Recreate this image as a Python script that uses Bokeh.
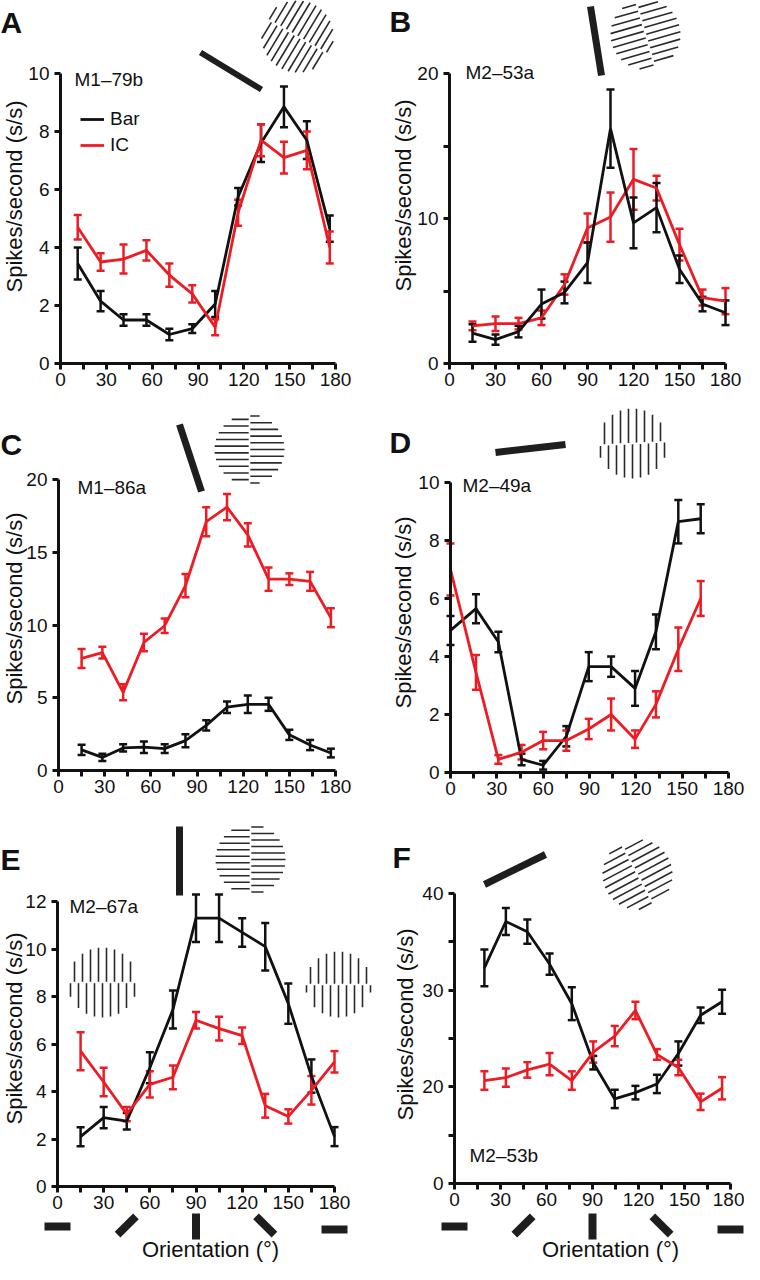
import math
from bokeh.plotting import figure
from bokeh.models import (Range1d, LinearAxis, FixedTicker, Whisker, TeeHead,
                          ColumnDataSource, Legend, LegendItem)
from bokeh.layouts import column, row
from bokeh.core.properties import value
from bokeh.embed import file_html
from bokeh.resources import INLINE

FONT = "Liberation Sans"
BLACK = "#111111"
RED = "#ec1c24"
ICON = "#1e1e1e"
GRAT = "#2a2a2a"

# ---------------- data ----------------
a_x = [11.25, 26.25, 41.25, 56.25, 71.25, 86.25, 101.25, 116.25, 131.25, 146.25, 161.25, 176.25]
a_bar = [3.45, 2.15, 1.5, 1.5, 1.0, 1.2, 2.05, 5.75, 7.6, 8.85, 7.7, 4.65]
a_bar_err = [0.55, 0.35, 0.2, 0.2, 0.2, 0.15, 0.45, 0.3, 0.65, 0.7, 0.65, 0.45]
a_ic = [4.7, 3.5, 3.6, 3.9, 3.05, 2.4, 1.25, 5.2, 7.7, 7.1, 7.35, 4.0]
a_ic_err = [0.42, 0.3, 0.5, 0.35, 0.4, 0.3, 0.28, 0.45, 0.55, 0.55, 0.65, 0.55]

b_x = [15, 30, 45, 60, 75, 90, 105, 120, 135, 150, 165, 180]
b_bar = [2.1, 1.65, 2.2, 4.1, 4.9, 6.95, 16.2, 9.7, 10.75, 6.5, 4.1, 3.5]
b_bar_err = [0.6, 0.35, 0.4, 1.0, 0.75, 1.4, 2.7, 1.75, 1.7, 0.95, 0.5, 0.85]
b_ic = [2.6, 2.75, 2.75, 3.15, 5.45, 9.35, 10.1, 12.7, 12.1, 8.2, 4.55, 4.3]
b_ic_err = [0.3, 0.5, 0.4, 0.5, 0.7, 1.0, 1.7, 2.1, 0.85, 1.1, 0.55, 0.9]

c_x = [15, 28.5, 42, 55.5, 69, 82.5, 96, 109.5, 123, 136.5, 150, 163.5, 177]
c_bar = [1.42, 0.9, 1.55, 1.6, 1.5, 2.05, 3.1, 4.35, 4.55, 4.55, 2.45, 1.75, 1.2]
c_bar_err = [0.35, 0.25, 0.25, 0.4, 0.3, 0.45, 0.35, 0.4, 0.6, 0.45, 0.35, 0.35, 0.3]
c_ic = [7.7, 8.1, 5.37, 8.8, 9.95, 12.7, 17.1, 18.1, 16.2, 13.15, 13.15, 13.0, 10.5]
c_ic_err = [0.65, 0.4, 0.55, 0.6, 0.5, 0.8, 1.0, 0.9, 0.8, 0.8, 0.4, 0.65, 0.65]

d_x = [0, 16.5, 31, 46, 60, 75, 89.5, 104, 119.5, 133, 147.5, 162]
d_bar = [4.9, 5.65, 4.5, 0.45, 0.25, 1.25, 3.65, 3.65, 2.9, 4.85, 8.65, 8.75]
d_bar_err = [0.5, 0.5, 0.35, 0.2, 0.15, 0.35, 0.5, 0.35, 0.6, 0.6, 0.75, 0.5]
d_ic = [7.0, 3.45, 0.45, 0.7, 1.1, 1.1, 1.5, 2.0, 1.15, 2.35, 4.25, 6.0]
d_ic_err = [0.9, 0.6, 0.15, 0.25, 0.3, 0.35, 0.35, 0.55, 0.3, 0.45, 0.75, 0.6]

e_x = [15, 30, 45, 60, 75, 90, 105, 120, 135, 150, 165, 180]
e_bar = [2.1, 2.9, 2.75, 5.0, 7.45, 11.3, 11.3, 10.7, 10.1, 7.7, 4.65, 2.1]
e_bar_err = [0.4, 0.45, 0.35, 0.65, 0.8, 1.0, 1.0, 0.6, 1.0, 0.85, 0.7, 0.4]
e_ic = [5.7, 4.4, 3.05, 4.3, 4.6, 7.0, 6.65, 6.35, 3.4, 2.95, 4.05, 5.25]
e_ic_err = [0.8, 0.6, 0.3, 0.55, 0.5, 0.35, 0.5, 0.35, 0.5, 0.3, 0.6, 0.45]

f_x = [19.5, 33.5, 47.5, 62, 76.5, 90.5, 104.5, 118, 132, 146, 160.5, 174.5]
f_bar = [32.3, 37.1, 36.05, 32.7, 28.6, 22.5, 18.75, 19.4, 20.3, 23.45, 27.4, 28.8]
f_bar_err = [1.9, 1.4, 1.25, 1.1, 1.7, 0.7, 0.95, 0.7, 0.95, 1.25, 0.8, 1.25]
f_ic = [20.65, 20.95, 21.75, 22.35, 20.65, 23.6, 25.25, 27.9, 23.35, 22.0, 18.45, 19.85]
f_ic_err = [0.95, 0.95, 0.8, 1.15, 0.95, 1.1, 1.05, 0.9, 0.55, 0.8, 0.85, 1.15]

x_ticks = [0, 30, 60, 90, 120, 150, 180]
x_minor = [15, 45, 75, 105, 135, 165]
orientations = [0, 45, 90, 135, 180]
y_label = "Spikes/second (s/s)"
x_label = "Orientation (°)"


# ---------------- helpers ----------------
class Panel:
    def __init__(self, left, top, W, H, xpx, xval, ypx, yval):
        self.left, self.top, self.W, self.H = left, top, W, H
        self.sx = (xpx[1] - xpx[0]) / (xval[1] - xval[0])
        self.sy = (ypx[0] - ypx[1]) / (yval[1] - yval[0])
        self.xs = xval[0] - (xpx[0] - left) / self.sx
        self.ys = yval[0] - (top + H - ypx[0]) / self.sy
        p = figure(width=W, height=H,
                   x_range=Range1d(self.xs, self.xs + W / self.sx),
                   y_range=Range1d(self.ys, self.ys + H / self.sy),
                   output_backend="svg", toolbar_location=None,
                   x_axis_location=None, y_axis_location=None, min_border=0)
        p.outline_line_color = None
        p.grid.grid_line_color = None
        p.background_fill_color = "white"
        p.border_fill_color = "white"
        self.p = p

    def X(self, px):
        return self.xs + (px - self.left) / self.sx

    def Y(self, py):
        return self.ys + (self.top + self.H - py) / self.sy

    def px_of(self, xv):
        return self.left + (xv - self.xs) * self.sx


def style_axis(ax):
    ax.axis_line_width = 3
    ax.axis_line_color = BLACK
    ax.major_tick_line_width = 3
    ax.major_tick_line_color = BLACK
    ax.minor_tick_line_width = 3
    ax.minor_tick_line_color = BLACK
    ax.major_tick_in = 0
    ax.major_tick_out = 6
    ax.minor_tick_in = 0
    ax.minor_tick_out = 6
    ax.major_label_text_font = FONT
    ax.major_label_text_font_size = "19px"
    ax.major_label_text_color = BLACK


def add_axes(P, yticks, yminor, ybounds, ybase=0, overrides=None):
    xa = LinearAxis(fixed_location=ybase, bounds=(0, 180),
                    ticker=FixedTicker(ticks=x_ticks, minor_ticks=x_minor))
    style_axis(xa)
    xa.major_label_standoff = 3
    P.p.add_layout(xa, "below")
    ya = LinearAxis(fixed_location=0, bounds=ybounds,
                    ticker=FixedTicker(ticks=yticks, minor_ticks=yminor))
    style_axis(ya)
    ya.major_label_standoff = 5
    if overrides:
        ya.major_label_overrides = overrides
    P.p.add_layout(ya, "left")


def series(P, x, y, e, color):
    src = ColumnDataSource(dict(x=x, y=y,
                                lo=[a - b for a, b in zip(y, e)],
                                hi=[a + b for a, b in zip(y, e)]))
    w = Whisker(source=src, base="x", lower="lo", upper="hi", dimension="height",
                line_color=color, line_width=2.5,
                upper_head=TeeHead(size=8, line_color=color, line_width=2.5),
                lower_head=TeeHead(size=8, line_color=color, line_width=2.5))
    P.p.add_layout(w)
    r = P.p.line("x", "y", source=src, line_color=color, line_width=2.8)
    return r


def txt(P, px, py, s, size, align="left", baseline="alphabetic", bold=False, angle=0.0):
    P.p.text(x=[P.X(px)], y=[P.Y(py)], text=[s], text_font=value(FONT),
             text_font_size=f"{size}px", text_font_style="bold" if bold else "normal",
             text_align=align, text_baseline=baseline, angle=angle, text_color=BLACK)


def bar(P, x0, y0, x1, y1, w=7):
    P.p.segment(x0=[P.X(x0)], y0=[P.Y(y0)], x1=[P.X(x1)], y1=[P.Y(y1)],
                line_width=w, line_color=ICON, line_cap="butt")


def grating(P, cx, cy, r, line_ang, brk_ang, sp, lw=1.6, gap=0.8):
    la = math.radians(line_ang)
    ba = math.radians(brk_ang)
    u = (math.cos(la), -math.sin(la))
    n = (-u[1], u[0])
    b = (math.cos(ba), -math.sin(ba))
    m = (-b[1], b[0])
    um = u[0] * m[0] + u[1] * m[1]
    nm = n[0] * m[0] + n[1] * m[1]
    X0, Y0, X1, Y1 = [], [], [], []
    for s, shift in ((1, 0.0), (-1, sp / 2.0)):
        k = -int(r / sp) - 1
        while k * sp + shift < r:
            d = k * sp + shift
            k += 1
            if abs(d) >= r - 0.5:
                continue
            h = math.sqrt(r * r - d * d)
            t0, t1 = -h, h
            a = s * um
            c = s * d * nm
            if abs(a) < 1e-9:
                if c < gap:
                    continue
            elif a > 0:
                t0 = max(t0, (gap - c) / a)
            else:
                t1 = min(t1, (gap - c) / a)
            if t1 - t0 < 1.5:
                continue
            px0 = cx + d * n[0] + t0 * u[0]
            py0 = cy + d * n[1] + t0 * u[1]
            px1 = cx + d * n[0] + t1 * u[0]
            py1 = cy + d * n[1] + t1 * u[1]
            X0.append(P.X(px0)); Y0.append(P.Y(py0))
            X1.append(P.X(px1)); Y1.append(P.Y(py1))
    P.p.segment(x0=X0, y0=Y0, x1=X1, y1=Y1, line_width=lw, line_color=GRAT, line_cap="butt")


def orient_icons(P, ys):
    for o, yy in zip(orientations, ys):
        cx = P.px_of(o)
        L = 26.0
        dx = L / 2 * math.cos(math.radians(o))
        dy = L / 2 * math.sin(math.radians(o))
        bar(P, cx - dx, yy + dy, cx + dx, yy - dy, w=8)


# ---------------- panels ----------------
A = Panel(8, 8, 372, 402, (68, 343), (0, 180), (371, 81), (0, 10))
B = Panel(380, 8, 372, 402, (457, 733), (0, 180), (371, 81), (0, 20))
C = Panel(8, 410, 372, 405, (66, 343), (0, 180), (778, 487), (0, 20))
D = Panel(380, 410, 372, 405, (458, 736), (0, 180), (780, 490), (0, 10))
E = Panel(8, 815, 372, 457, (65, 342), (0, 180), (1194, 909), (0, 12))
F = Panel(380, 815, 372, 457, (462, 738), (0, 180), (1191, 901), (10, 40))

add_axes(A, [0, 2, 4, 6, 8, 10], [], (0, 10))
add_axes(B, [0, 10, 20], [5, 15], (0, 20))
add_axes(C, [0, 5, 10, 15, 20], [], (0, 20))
add_axes(D, [0, 2, 4, 6, 8, 10], [], (0, 10))
add_axes(E, [0, 2, 4, 6, 8, 10, 12], [], (0, 12))
add_axes(F, [10, 20, 30, 40], [15, 25, 35], (10, 40), ybase=10, overrides={10: "0"})

# series
ra_bar = series(A, a_x, a_bar, a_bar_err, BLACK)
ra_ic = series(A, a_x, a_ic, a_ic_err, RED)
series(B, b_x, b_ic, b_ic_err, RED)
series(B, b_x, b_bar, b_bar_err, BLACK)
series(C, c_x, c_bar, c_bar_err, BLACK)
series(C, c_x, c_ic, c_ic_err, RED)
series(D, d_x, d_bar, d_bar_err, BLACK)
series(D, d_x, d_ic, d_ic_err, RED)
series(E, e_x, e_bar, e_bar_err, BLACK)
series(E, e_x, e_ic, e_ic_err, RED)
series(F, f_x, f_bar, f_bar_err, BLACK)
series(F, f_x, f_ic, f_ic_err, RED)

legend = Legend(items=[LegendItem(label="Bar", renderers=[ra_bar]),
                       LegendItem(label="IC", renderers=[ra_ic])],
                location=(80, 246), padding=0, margin=0, spacing=4,
                glyph_width=24, glyph_height=20, label_height=20, label_standoff=6,
                label_text_font=FONT, label_text_font_size="19px",
                label_text_color=BLACK,
                background_fill_alpha=0, border_line_alpha=0)
A.p.add_layout(legend, "center")

# texts
for P, letter, lx, ly in ((A, "A", 8, 30), (B, "B", 397, 29), (C, "C", 8, 452),
                          (D, "D", 397, 450), (E, "E", 8, 867), (F, "F", 400, 865)):
    txt(P, lx, ly, letter, 30, bold=True)

for P, lab, lx, ly in ((A, "M1–79b", 82, 87), (B, "M2–53a", 473, 80), (C, "M1–86a", 85, 495),
                       (D, "M2–49a", 470, 493), (E, "M2–67a", 77, 914), (F, "M2–53b", 477, 1163)):
    txt(P, lx, ly, lab, 19)

for P, cx, cy in ((A, 22, 204), (B, 411, 203), (C, 22, 616), (D, 411, 620), (E, 22, 1036), (F, 413, 1032)):
    txt(P, cx, cy, y_label, 22, align="center", baseline="middle", angle=math.pi / 2)

for P, cx in ((E, 218), (F, 618)):
    txt(P, cx, 1257, x_label, 22, align="center", baseline="middle")

# stimulus icons
bar(A, 208, 60, 269, 97, w=6)
grating(A, 305, 44, 36, 59, 150, 6.6)

bar(B, 598, 14, 609, 83, w=7)
grating(B, 653, 42, 35, 16, 106, 7.0)

bar(C, 187, 432, 209, 499, w=7)
grating(C, 257, 457, 35, 0, 90, 6.7)

bar(D, 503, 460, 573, 452, w=7)
grating(D, 640, 451, 35, 90, 3, 8.0)

bar(E, 187, 834, 187, 903, w=7)
grating(E, 258, 867, 35, 0, 90, 6.5)
grating(E, 110, 990, 35, 90, 0, 8.0)
grating(E, 346, 992, 33, 90, 0, 8.0)

bar(F, 492, 892, 553, 862, w=7)
grating(F, 645, 882, 35, 28, 118, 7.0)

orient_icons(E, [1234, 1233, 1234, 1233, 1237])
orient_icons(F, [1234, 1233, 1234, 1233, 1237])

layout = column(row(A.p, B.p), row(C.p, D.p), row(E.p, F.p))
open("out.html", "w").write(file_html(layout, INLINE))
